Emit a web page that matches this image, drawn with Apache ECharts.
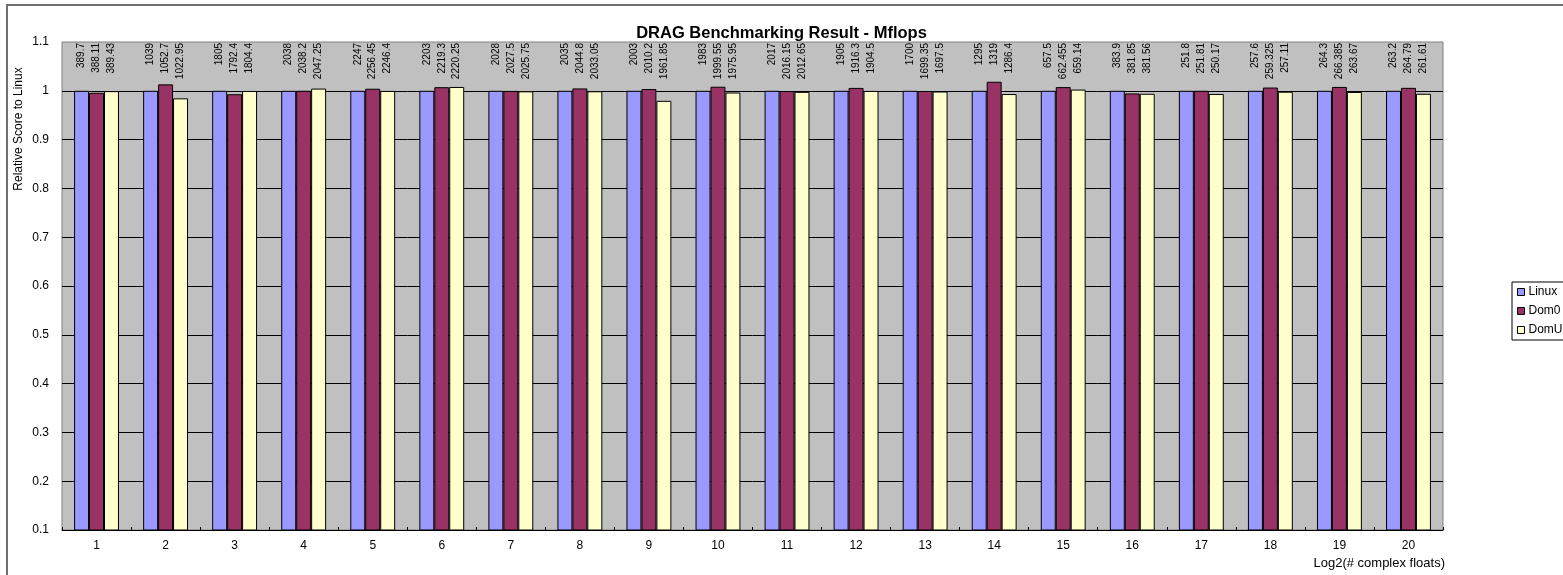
<!DOCTYPE html>
<html>
<head>
<meta charset="utf-8">
<title>DRAG Benchmarking Result - Mflops</title>
<script src="https://cdn.jsdelivr.net/npm/echarts@6/dist/echarts.min.js"></script>
<style>
  html, body { margin: 0; padding: 0; background: #fff; }
  #chart { width: 1563px; height: 575px; }
</style>
</head>
<body>
<div id="chart"></div>
<script>
// Problem sizes, log2 of the number of complex floats
const categories = ['1', '2', '3', '4', '5', '6', '7', '8', '9', '10',
  '11', '12', '13', '14', '15', '16', '17', '18', '19', '20'];

// Measured throughput in Mflops for each platform
const linuxMflops = [389.7, 1039, 1805, 2038, 2247, 2203, 2028, 2035, 2003, 1983,
  2017, 1905, 1700, 1295, 657.5, 383.9, 251.8, 257.6, 264.3, 263.2];
const dom0Mflops = [388.11, 1052.7, 1792.4, 2038.2, 2256.45, 2219.3, 2027.5, 2044.8, 2010.2, 1999.55,
  2016.15, 1916.3, 1699.35, 1319, 662.455, 381.85, 251.81, 259.325, 266.385, 264.79];
const domUMflops = [389.43, 1022.95, 1804.4, 2047.25, 2246.4, 2220.25, 2025.75, 2033.05, 1961.85, 1975.95,
  2012.65, 1904.5, 1697.5, 1286.4, 659.14, 381.56, 250.17, 257.11, 263.67, 261.61];

const seriesNames = ['Linux', 'Dom0', 'DomU'];
const seriesColors = ['#9999FF', '#993366', '#FFFFCC'];

const yMin = 0.1, yMax = 1.1, yStep = 0.1;

const chart = echarts.init(document.getElementById('chart'), null, { renderer: 'canvas' });

const font = 'Arial, "Liberation Sans", sans-serif';
const raw = [linuxMflops, dom0Mflops, domUMflops];

// Each platform is shown relative to Linux; a transparent cap stacked up to the
// top of the axis carries the Mflops label so all labels hang from the top edge.
const series = [];
raw.forEach((vals, k) => {
  const rel = vals.map((v, i) => v / linuxMflops[i]);
  series.push({
    name: seriesNames[k],
    type: 'bar',
    stack: 's' + k,
    barGap: '0%',
    barCategoryGap: '35%',
    itemStyle: { color: seriesColors[k], borderColor: '#000', borderWidth: 1 },
    data: rel
  });
  series.push({
    name: seriesNames[k] + ' label',
    type: 'bar',
    stack: 's' + k,
    barGap: '0%',
    barCategoryGap: '35%',
    silent: true,
    itemStyle: { color: 'rgba(0,0,0,0)', borderWidth: 0 },
    label: {
      show: true,
      position: 'insideTop',
      distance: 1,
      rotate: 90,
      align: 'right',
      verticalAlign: 'middle',
      fontFamily: font,
      fontSize: 10,
      color: '#000',
      formatter: p => String(vals[p.dataIndex])
    },
    data: rel.map(r => yMax - r)
  });
});

chart.setOption({
  animation: false,
  backgroundColor: '#fff',
  title: {
    text: 'DRAG Benchmarking Result - Mflops',
    left: 'center',
    top: 20,
    textStyle: { fontFamily: font, fontSize: 16.5, fontWeight: 'bold', color: '#000' }
  },
  legend: {
    data: seriesNames,
    orient: 'vertical',
    left: 1512,
    top: 282,
    padding: [4, 30, 4, 5],
    itemWidth: 7,
    itemHeight: 7,
    itemGap: 7,
    icon: 'rect',
    borderColor: '#000',
    borderWidth: 1,
    backgroundColor: '#fff',
    borderRadius: 0,
    itemStyle: { borderColor: '#000', borderWidth: 1 },
    textStyle: { fontFamily: font, fontSize: 12, color: '#000', padding: [0, 0, 0, -1] }
  },
  grid: {
    left: 62, right: 120, top: 42, bottom: 45,
    show: true,
    backgroundColor: '#C0C0C0',
    borderColor: '#808080',
    borderWidth: 1
  },
  xAxis: {
    type: 'category',
    data: categories,
    axisLine: { show: true, lineStyle: { color: '#000', width: 1 } },
    axisTick: { show: true, inside: true, length: 3, lineStyle: { color: '#000' } },
    axisLabel: { fontFamily: font, fontSize: 12, color: '#000', margin: 10 },
    splitLine: { show: false }
  },
  yAxis: {
    type: 'value',
    min: yMin,
    max: yMax,
    interval: yStep,
    axisLine: { show: false },
    axisTick: { show: false },
    axisLabel: { fontFamily: font, fontSize: 12, color: '#000', margin: 13 },
    splitLine: { show: true, showMinLine: false, showMaxLine: false, lineStyle: { color: '#000', width: 1 } }
  },
  graphic: [
    {
      type: 'rect',
      shape: { x: 7, y: 5, width: 1600, height: 620 },
      style: { fill: 'none', stroke: '#707070', lineWidth: 2 },
      silent: true,
      z: -1
    },
    {
      type: 'text',
      x: 19, y: 129,
      rotation: Math.PI / 2,
      style: {
        text: 'Relative Score to Linux',
        font: '12px ' + font,
        fill: '#000',
        align: 'center',
        verticalAlign: 'middle'
      }
    },
    {
      type: 'text',
      x: 1445, y: 563,
      style: {
        text: 'Log2(# complex floats)',
        font: '13px ' + font,
        fill: '#000',
        align: 'right',
        verticalAlign: 'middle'
      }
    }
  ],
  series: series
});
</script>
</body>
</html>
